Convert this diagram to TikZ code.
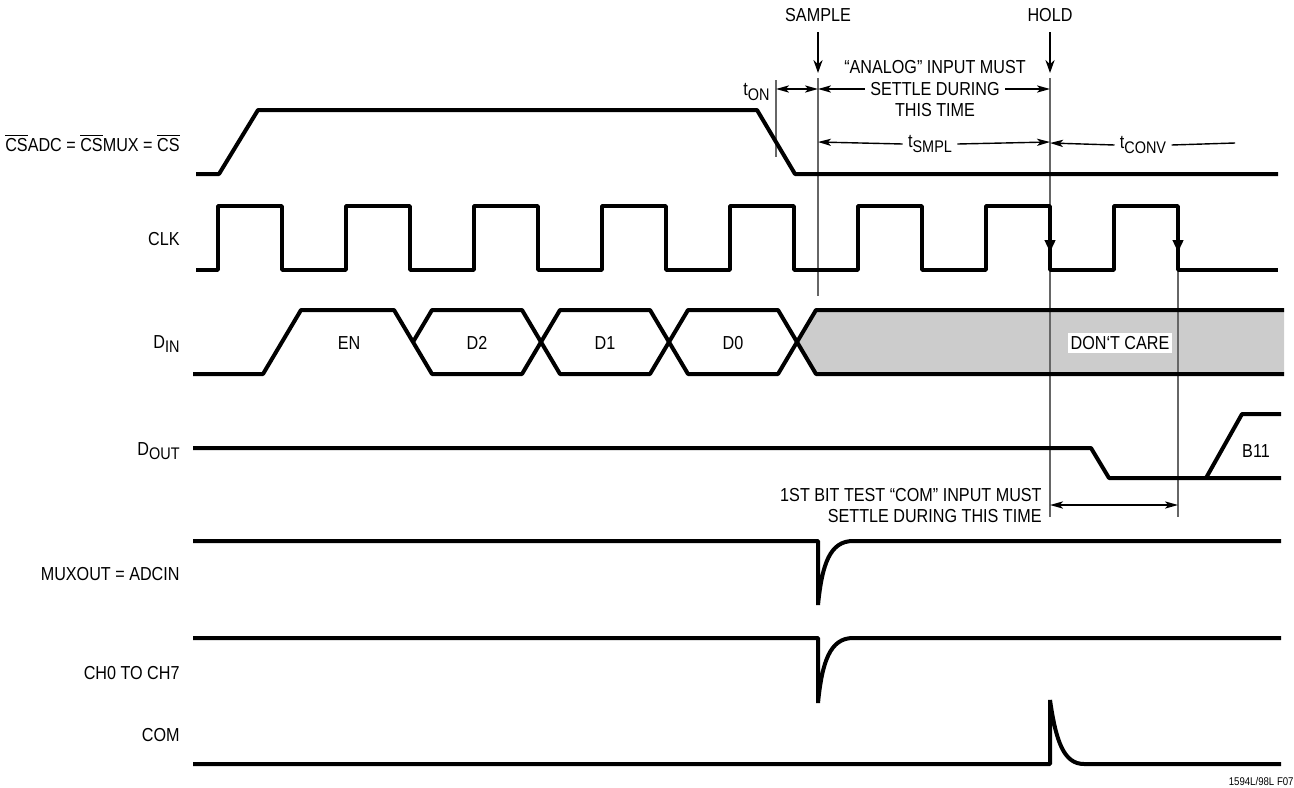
\documentclass[tikz,border=0pt]{standalone}
\usepackage{fontspec}
\setmainfont[FakeStretch=0.86]{Liberation Sans}
\usetikzlibrary{arrows.meta}
\newcommand{\olbar}[1]{$\overline{\hbox{#1}}$}
\newcommand{\lsub}[1]{\raisebox{-0.45ex}{\fontsize{8.4}{9}\selectfont #1}}
\begin{document}
\begin{tikzpicture}[x=0.5pt,y=-0.5pt,
  sig/.style={line width=2pt, line join=bevel},
  vline/.style={line width=0.75pt, draw=black!60},
  thinln/.style={line width=0.7pt},
  lab/.style={font=\fontsize{9.4}{11}\selectfont, inner sep=0pt},
  small/.style={font=\fontsize{5.6}{7}\selectfont, inner sep=0pt},
  dtip/.tip={Stealth[length=6.5pt,width=3.6pt,inset=1.6pt]},
  dimarr/.style={thinln, -dtip},
  bigarr/.style={thinln, -{Stealth[length=6.5pt,width=4.6pt]}},
  clkarr/.style={line width=0.7pt, -{Stealth[length=6pt,width=5.5pt,inset=0pt]}},
]
\useasboundingbox (0,0) rectangle (1294,787);

% ---- left labels
\node[lab, anchor=east] (lcs) at (180,143) {\olbar{CS}ADC = \olbar{CS}MUX = \olbar{CS}};
\node[lab, anchor=east] (lclk) at (180,239) {CLK};
\node[lab, anchor=east] (ldin) at (180,344) {D\lsub{IN}};
\node[lab, anchor=east] (ldout) at (180,451) {D\lsub{OUT}};
\node[lab, anchor=east] (lmux) at (180,574) {MUXOUT = ADCIN};
\node[lab, anchor=east] (lch) at (180,673) {CH0 TO CH7};
\node[lab, anchor=east] (lcom) at (180,735) {COM};

% ---- don't care fill
\fill[black!20] (797,342) -- (816,310) -- (1284,310) -- (1284,374) -- (816,374) -- cycle;

% ---- vertical reference lines
\coordinate (s0) at (818,78);  \coordinate (s1) at (818,296);
\coordinate (t0) at (776,80);  \coordinate (t1) at (776,157);
\coordinate (h0) at (1050,78); \coordinate (h1) at (1050,517);
\coordinate (c0) at (1178,206); \coordinate (c1) at (1178,517);
\draw[vline] (s0) -- (s1);
\draw[vline] (t0) -- (t1);
\draw[vline] (h0) -- (h1);
\draw[vline] (c0) -- (c1);

% ---- SAMPLE / HOLD
\node[lab] (sample) at (818,15) {SAMPLE};
\node[lab] (hold) at (1050,15) {HOLD};
\coordinate (sa0) at (818,32); \coordinate (sa1) at (818,73);
\coordinate (ha0) at (1050,32); \coordinate (ha1) at (1050,73);
\draw[bigarr] (sa0) -- (sa1);
\draw[bigarr] (ha0) -- (ha1);

% ---- tON
\node[lab, anchor=east] (ton) at (770,92) {t\lsub{ON}};
\coordinate (ta) at (776,89); \coordinate (tb) at (818,89);
\draw[thinln, dtip-dtip] (ta) -- (tb);

% ---- analog text
\node[lab] (an1) at (935,67) {“ANALOG” INPUT MUST};
\node[lab] (an2) at (935,89) {SETTLE DURING};
\node[lab] (an3) at (935,110) {THIS TIME};
\coordinate (aL) at (818,89); \coordinate (aR) at (1050,89);
\draw[dimarr] ([xshift=-2.5pt]an2.west) -- (aL);
\draw[dimarr] ([xshift=2.5pt]an2.east) -- (aR);

% ---- tSMPL
\node[lab] (tsmpl) at (930,144) {t\lsub{SMPL}};
\coordinate (pL) at (818,142); \coordinate (pR) at (1050,142);
\draw[dimarr] ([xshift=-2.5pt]tsmpl.west) -- (pL);
\draw[dimarr] ([xshift=2.5pt]tsmpl.east) -- (pR);

% ---- tCONV
\node[lab] (tconv) at (1143,145) {t\lsub{CONV}};
\coordinate (vL) at (1050,143); \coordinate (vR) at (1235,143);
\draw[dimarr] ([xshift=-2.5pt]tconv.west) -- (vL);
\draw[thinln] ([xshift=2.5pt]tconv.east) -- (vR);

% ---- 1st bit test
\node[lab, anchor=east] (bt1) at (1042,495) {1ST BIT TEST “COM” INPUT MUST};
\node[lab, anchor=east] (bt2) at (1042,516) {SETTLE DURING THIS TIME};
\coordinate (bL) at (1050,505); \coordinate (bR) at (1178,505);
\draw[thinln, dtip-dtip] (bL) -- (bR);

% ---- CS
\draw[sig] (196,174) -- (219,174) -- (258,110) -- (757,110) -- (795,174) -- (1278,174);

% ---- CLK
\draw[sig] (196,270)
  \foreach \r in {218,346,474,602,730,858,986,1114} {
    -- (\r,270) -- (\r,206) -- (\r+64,206) -- (\r+64,270)
  } -- (1278,270);
\coordinate (k0) at (1050,215); \coordinate (k1) at (1050,252);
\coordinate (k2) at (1178,215); \coordinate (k3) at (1178,252);
\draw[clkarr] (k0) -- (k1);
\draw[clkarr] (k2) -- (k3);

% ---- DIN
\draw[sig] (193,374) -- (263,374) -- (301,310) -- (394,310) -- (432,374) -- (522,374)
  -- (560,310) -- (650,310) -- (688,374) -- (778,374) -- (816,310) -- (1284,310);
\draw[sig] (413,342) -- (432,310) -- (522,310) -- (560,374) -- (650,374) -- (688,310)
  -- (778,310) -- (816,374) -- (1284,374);
\node[lab] (en) at (349,343) {EN};
\node[lab] (d2) at (477,343) {D2};
\node[lab] (d1) at (605,343) {D1};
\node[lab] (d0) at (733,343) {D0};
\node[lab, fill=white, inner sep=1.5pt] (dc) at (1120,343) {DON‘T CARE};

% ---- DOUT
\draw[sig] (193,448) -- (1091,448) -- (1109,478) -- (1281,478);
\draw[sig] (1206,478) -- (1242,414) -- (1281,414);
\node[lab] (b11) at (1256,451) {B11};

% ---- MUXOUT
\draw[sig] (193,541) -- (818,541) -- (818,605) .. controls (822,564) and (830,541) .. (853,541) -- (1281,541);
% ---- CH0..CH7
\draw[sig] (193,638) -- (818,638) -- (818,703) .. controls (822,662) and (830,638) .. (853,638) -- (1281,638);
% ---- COM
\draw[sig] (193,764) -- (1050,764) -- (1050,700) .. controls (1056,742) and (1064,764) .. (1084,764) -- (1281,764);

% ---- footer
\node[small, anchor=east] (foot) at (1294,781) {1594L/98L F07};
\end{tikzpicture}
\end{document}
